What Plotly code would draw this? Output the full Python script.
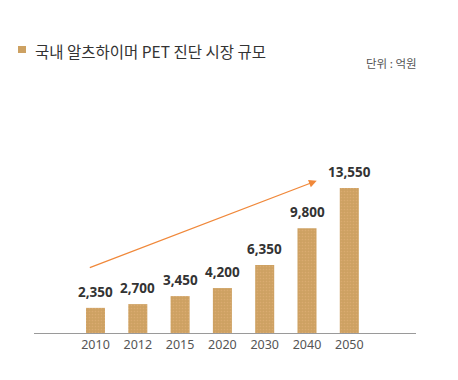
import plotly.graph_objects as go

years = ["2010", "2012", "2015", "2020", "2030", "2040", "2050"]
values = [2350, 2700, 3450, 4200, 6350, 9800, 13550]
labels = ["2,350", "2,700", "3,450", "4,200", "6,350", "9,800", "13,550"]
title_text = "국내 알츠하이머 PET 진단 시장 규모"
unit_text = "단위 : 억원"

BAR = "#CDA162"
OFF = 8  # default body margin of the html page
W, H = 458 - OFF, 380 - OFF
L, R, T, B = 34 - OFF, 42, 160 - OFF, 47
pw, ph = W - L - R, H - T - B

def px(x):
    return (x - OFF - L) / pw

def py(y):
    return (H - B - (y - OFF)) / ph

fig = go.Figure()
fig.add_trace(go.Bar(
    x=list(range(len(years))), y=values, width=0.45,
    marker=dict(color=BAR, line=dict(width=0),
                pattern=dict(shape=".", size=3, solidity=0.25,
                             fgcolor="#E2B27A", fgopacity=0.6)),
    hoverinfo="skip",
))

annotations = []
for i, (v, t) in enumerate(zip(values, labels)):
    annotations.append(dict(
        x=i, y=v, xref="x", yref="y", text=t, showarrow=False,
        yanchor="bottom", yshift=5,
        font=dict(family="Noto Sans", size=13.5, color="#333333", weight="bold"),
    ))

# trend arrow
annotations.append(dict(
    x=5.23, y=14230, ax=-0.17, ay=6050,
    xref="x", yref="y", axref="x", ayref="y",
    text="", showarrow=True, arrowhead=2, arrowsize=1.2, arrowwidth=1.3,
    arrowcolor="#F0883A",
))

annotations.append(dict(
    x=px(33), y=py(51), xref="paper", yref="paper", text=title_text,
    showarrow=False, xanchor="left", yanchor="middle",
    font=dict(family="Noto Sans CJK KR", size=15.5, color="#333333"),
))
annotations.append(dict(
    x=px(419), y=py(63), xref="paper", yref="paper", text=unit_text,
    showarrow=False, xanchor="right", yanchor="middle",
    font=dict(family="Noto Sans CJK KR", size=11.5, color="#555555"),
))

shapes = [dict(
    type="rect", xref="paper", yref="paper",
    x0=px(18), x1=px(26), y0=py(53), y1=py(46),
    fillcolor=BAR, line=dict(width=0),
)]

fig.update_layout(
    width=W, height=H,
    margin=dict(l=L, r=R, t=T, b=B, pad=0),
    paper_bgcolor="white", plot_bgcolor="white",
    showlegend=False,
    annotations=annotations, shapes=shapes,
    xaxis=dict(
        range=[-1.454, 7.577], tickmode="array",
        tickvals=list(range(len(years))), ticktext=years,
        showgrid=False, zeroline=False, showline=True,
        linecolor="#9a9a9a", linewidth=1, ticks="",
        tickfont=dict(family="Noto Sans", size=12.5, color="#555555"),
        fixedrange=True,
    ),
    yaxis=dict(
        range=[0, 16170], visible=False, showgrid=False, zeroline=False,
        fixedrange=True,
    ),
)

fig.write_html("out.html", config={"displayModeBar": False})
